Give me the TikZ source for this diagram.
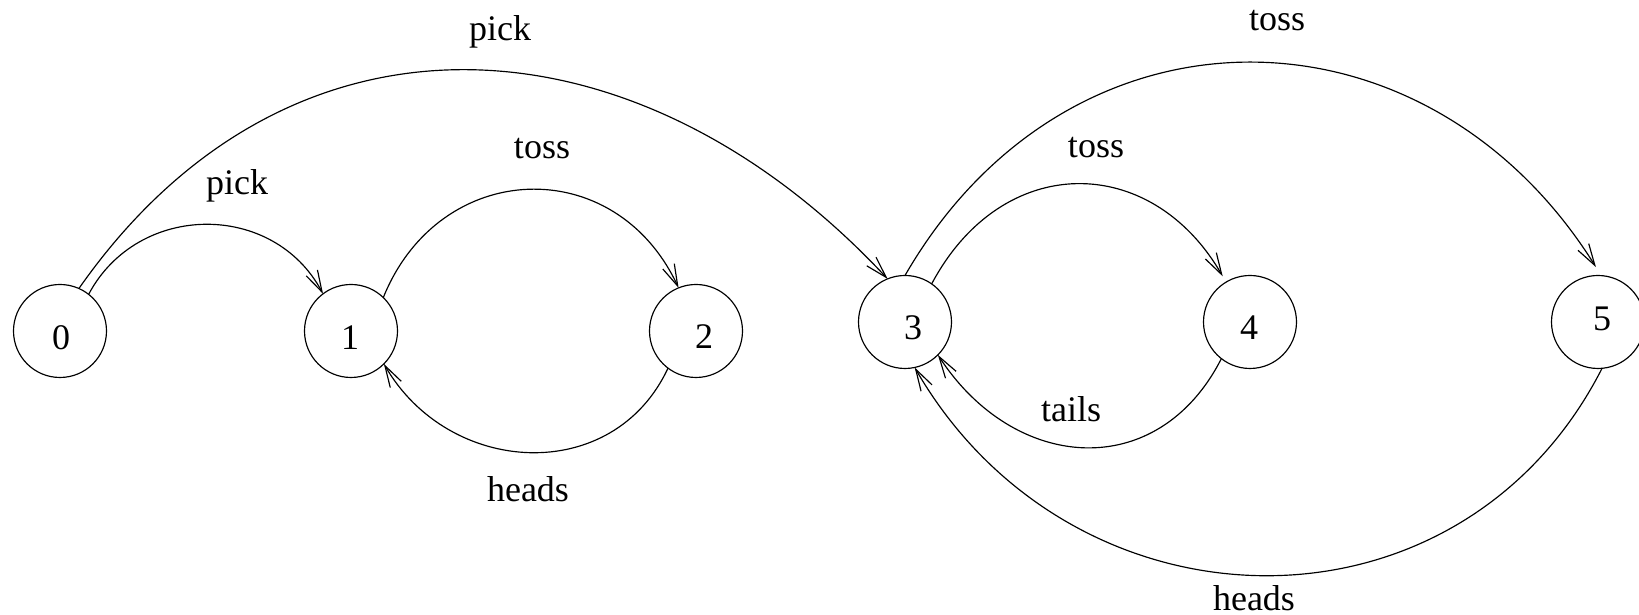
\documentclass[tikz,border=0pt]{standalone}
\usepackage{fontspec}
\setmainfont{Liberation Serif}
\usetikzlibrary{arrows.meta}
\begin{document}
\begin{tikzpicture}[x=0.3pt,y=0.3pt,
  state/.style={circle,draw,line width=0.35pt,minimum size=27.9pt,inner sep=0pt,outer sep=0pt},
  lbl/.style={inner sep=0pt,anchor=base,font=\fontsize{10.8}{13}\selectfont},
  num/.style={inner sep=0pt,font=\fontsize{10.8}{13}\selectfont},
  arr/.style={line width=0.35pt,-{Straight Barb[length=6.5pt,width=3.8pt]}}]
\useasboundingbox (0,0) rectangle (1639,615);
% states
\node[state] (n0) at (60,284) {};
\node[state] (n1) at (351,284) {};
\node[state] (n2) at (696,284) {};
\node[state] (n3) at (905,293) {};
\node[state] (n4) at (1250,293) {};
\node[state] (n5) at (1598,293) {};
% state numbers
\node[num] (d0) at (61,277) {0};
\node[num] (d1) at (350,277) {1};
\node[num] (d2) at (704,278) {2};
\node[num] (d3) at (913,287) {3};
\node[num] (d4) at (1249,287) {4};
\node[num] (d5) at (1602,296) {5};
% transitions
\draw[arr] (n0.52) .. controls +(62:105) and +(118:105) .. (n1.127);
\draw[arr] (n0.66) .. controls +(55:370) and +(133:365) .. (n3.112);
\draw[arr] (n1.46) .. controls +(68:150) and +(115:150) .. (n2.112);
\draw[arr] (n2.233) .. controls +(245:130) and +(300:130) .. (n1.315);
\draw[arr,shorten >=2pt] (n3.55) .. controls +(62:150) and +(120:150) .. (n4.121);
\draw[arr] (n4.232) .. controls +(243:140) and +(303:140) .. (n3.315);
\draw[arr,shorten >=3pt] (n3.90) .. controls +(60:330) and +(122:330) .. (n5.86);
\draw[arr] (n5.275) .. controls +(243:315) and +(300:315) .. (n3.282);
% labels
\node[lbl] (l1) at (500,574) {pick};
\node[lbl] (l2) at (237,420) {pick};
\node[lbl] (l3) at (542,456) {toss};
\node[lbl] (l4) at (528,113) {heads};
\node[lbl] (l5) at (1096,457) {toss};
\node[lbl] (l6) at (1071,193) {tails};
\node[lbl] (l7) at (1277,584) {toss};
\node[lbl] (l8) at (1254,4) {heads};
\end{tikzpicture}
\end{document}
